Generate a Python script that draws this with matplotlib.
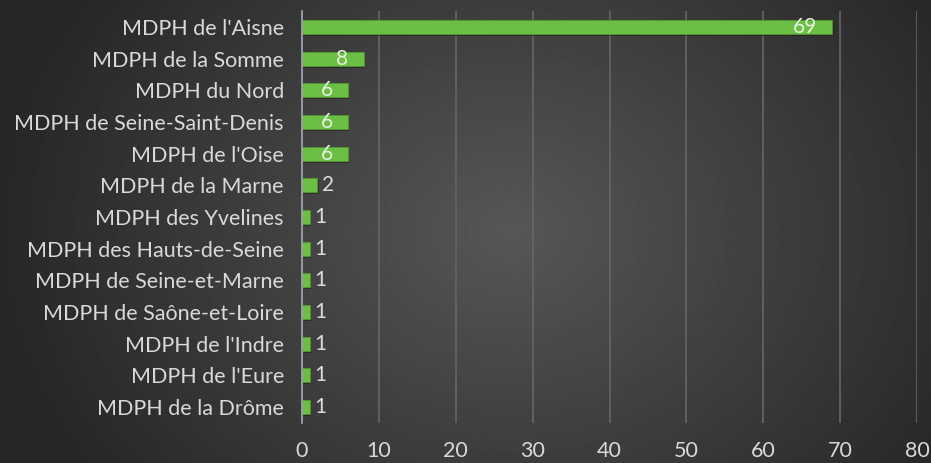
import numpy as np
import matplotlib.pyplot as plt

# data, top to bottom as in the picture
labels = ["MDPH de l'Aisne", "MDPH de la Somme", "MDPH du Nord",
          "MDPH de Seine-Saint-Denis", "MDPH de l'Oise", "MDPH de la Marne",
          "MDPH des Yvelines", "MDPH des Hauts-de-Seine", "MDPH de Seine-et-Marne",
          "MDPH de Saône-et-Loire", "MDPH de l'Indre", "MDPH de l'Eure",
          "MDPH de la Drôme"]
values = [69, 8, 6, 6, 6, 2, 1, 1, 1, 1, 1, 1, 1]
xticks = [0, 10, 20, 30, 40, 50, 60, 70, 80]

plt.rcParams['font.family'] = ['Lato', 'DejaVu Sans']

fig = plt.figure(figsize=(9.31, 4.63), dpi=100)

# radial dark background, lighter in the middle
bg = fig.add_axes([0, 0, 1, 1])
yy, xx = np.mgrid[-1:1:300j, -1:1:600j]
r = np.sqrt((xx - 0.1) ** 2 + (yy * 0.6) ** 2)
bg.imshow(np.clip(0.34 - 0.17 * r, 0.15, 0.34), cmap='gray', vmin=0, vmax=1,
          aspect='auto', extent=[0, 1, 0, 1])
bg.axis('off')

ax = fig.add_axes([0.3244, 0.0868, 0.6606, 0.889])
ax.patch.set_alpha(0)

y = np.arange(len(labels))[::-1]
# shadow under the bars
ax.barh(y - 0.06, values, height=0.45, left=0.15, color='#151515', alpha=0.45, zorder=2)
ax.barh(y, values, height=0.45, color='#6cbf45', edgecolor='#4f9a2e',
        linewidth=0.6, zorder=3)

for yi, v in zip(y, values):
    if v >= 5:
        ax.annotate(str(v), (v, yi), xytext=(-11, 0), textcoords='offset points',
                    ha='right', va='center', fontsize=15, color='#e4f2da', zorder=4)
    else:
        ax.annotate(str(v), (v, yi), xytext=(3, 0), textcoords='offset points',
                    ha='left', va='center', fontsize=15, color='#dcdcdc', zorder=4)

ax.set_xlim(0, 80)
ax.set_ylim(-0.5, len(labels) - 0.5)
ax.set_xticks(xticks)
ax.set_yticks(y)
ax.set_yticklabels(labels)
ax.tick_params(axis='both', length=0, labelsize=15.5, colors='#d9d9d9')
ax.tick_params(axis='x', pad=13)
ax.tick_params(axis='y', pad=13)
ax.grid(axis='x', color='#666666', linewidth=1.2, zorder=0)
for s in ['top', 'right', 'bottom']:
    ax.spines[s].set_visible(False)
ax.spines['left'].set_color('#a8a4b8')
ax.spines['left'].set_linewidth(1.2)
ax.spines['left'].set_zorder(5)

fig.savefig('out.png', dpi=100)
